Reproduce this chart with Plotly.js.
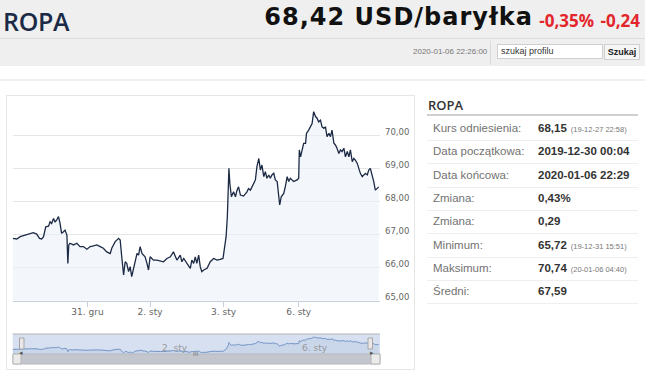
<!DOCTYPE html>
<html>
<head>
<meta charset="utf-8">
<script src="https://cdn.plot.ly/plotly-3.0.1.min.js"></script>
<style>
  html,body{margin:0;padding:0;background:#fff;width:645px;height:375px;overflow:hidden;font-family:"Liberation Sans",Arial,sans-serif;}
  .abs{position:absolute;}
  #hdr{left:0;top:0;width:645px;height:66px;background:#efefef;}
  #hdrline{left:0;top:38px;width:645px;height:1px;background:#dcdcdc;}
  #title{left:3px;top:4px;font-family:"Open Sans",sans-serif;font-size:25px;font-weight:600;color:#1b2a47;letter-spacing:-0.3px;}
  #price{right:112px;top:3px;font-family:"DejaVu Sans",sans-serif;font-size:24px;font-weight:700;color:#111;letter-spacing:1px;white-space:nowrap;}
  #chg{right:5px;top:9px;font-family:"Open Sans",sans-serif;font-size:17px;font-weight:700;color:#e3262d;white-space:nowrap;word-spacing:2px;}
  #date{left:413px;top:47px;font-size:8px;color:#777;}
  #vsep{left:490px;top:41px;width:1px;height:24px;background:#dadada;}
  #search{left:497px;top:44px;width:101px;height:13px;background:#fff;border:1px solid #cfcfcf;font-size:9px;color:#333;line-height:13px;padding-left:3px;box-sizing:content-box;}
  #btn{left:604px;top:44px;width:34px;height:14px;background:#f6f6f6;border:1px solid #cfcfcf;font-size:9px;font-weight:700;color:#222;line-height:14px;text-align:center;}
  #sep2{left:0;top:79px;width:645px;height:2px;background:#f0f0f0;}
  #box{left:6px;top:95px;width:409px;height:275px;border:1px solid #e6e6e6;box-sizing:border-box;}
  #plot{left:6px;top:95px;width:410px;height:275px;}
  #ptitle{left:428px;top:96px;font-family:"Open Sans",sans-serif;font-size:13px;font-weight:600;color:#333;}
  #pline{left:427px;top:114px;width:211px;height:2px;background:#d0d0d0;}
  .row{position:absolute;left:427px;width:211px;height:23px;border-bottom:1px solid #eeeeee;font-size:11.5px;}
  .lbl{position:absolute;left:6px;top:5px;color:#727272;}
  .val{position:absolute;left:111px;top:5px;color:#333;font-weight:700;white-space:nowrap;}
  .sm{font-size:7.5px;font-weight:400;color:#777;margin-left:4px;}
</style>
</head>
<body>
<div id="hdr" class="abs"></div>
<div id="hdrline" class="abs"></div>
<div id="title" class="abs">ROPA</div>
<div id="price" class="abs">68,42 USD/baryłka</div>
<div id="chg" class="abs">-0,35% -0,24</div>
<div id="date" class="abs">2020-01-06 22:26:00</div>
<div id="vsep" class="abs"></div>
<div id="search" class="abs">szukaj profilu</div>
<div id="btn" class="abs">Szukaj</div>
<div id="sep2" class="abs"></div>
<div id="box" class="abs"></div>
<div id="plot" class="abs"></div>
<div id="ptitle" class="abs">ROPA</div>
<div id="pline" class="abs"></div>
<div id="rows"></div>
<script>
// trading hours since 2019-12-30 00:04 (ordinal axis, non-trading time removed)
const hours = [0,1.3,2.4,4.0,5.6,6.6,7.7,8.6,9.3,9.9,10.6,11.5,12.0,12.5,13.1,13.6,14.1,14.7,15.2,15.7,16.3,16.8,17.4,17.7,18.0,18.4,19.5,20.6,21.6,22.7,23.8,24.9,25.9,27.0,28.1,29.1,30.2,31.3,31.8,32.9,34.0,34.5,35.0,35.6,36.1,36.6,37.2,37.7,38.2,38.8,39.3,39.9,40.4,40.9,41.5,42.0,42.5,43.1,43.6,44.1,44.7,45.2,46.3,47.4,48.4,49.5,50.6,51.6,52.2,52.7,53.8,54.3,54.9,55.9,57.0,57.5,58.1,58.6,59.1,59.7,60.2,60.7,61.3,62.4,63.4,64.5,65.6,66.6,67.5,67.9,68.5,68.9,69.2,69.4,69.7,70.2,70.9,71.5,72.0,72.5,73.1,74.1,75.2,75.7,76.3,76.8,77.4,77.9,78.4,79.0,79.5,80.0,80.6,81.1,81.6,82.2,82.7,83.2,83.8,84.3,84.9,85.4,85.7,86.2,87.0,87.5,88.1,88.6,89.1,90.2,91.3,91.8,92.0,92.4,92.9,93.4,94.0,94.3,95.0,95.6,96.1,96.6,97.2,97.7,98.2,98.8,99.3,99.9,100.4,100.9,101.5,102.0,102.5,103.1,103.6,104.1,104.7,105.2,105.7,106.3,106.8,107.4,107.9,108.4,109.0,109.5,110.0,110.6,111.1,111.6,112.2,112.7,113.2,113.8,114.3,114.8,115.4,115.9,116.4,117.0,117.5];
const prices = [66.89,66.87,66.94,66.99,67.04,67.06,67.02,66.89,66.87,66.94,67.24,67.26,67.39,67.34,67.49,67.39,67.44,67.55,67.34,67.04,67.09,67.14,66.99,66.13,66.69,66.74,66.69,66.74,66.64,66.64,66.56,66.64,66.66,66.69,66.64,66.59,66.48,66.43,66.59,66.79,66.89,66.84,66.33,65.78,66.18,66.13,65.88,66.03,65.73,65.98,66.23,66.43,66.38,66.64,66.43,66.38,66.33,66.13,65.93,66.33,66.28,66.23,66.23,66.21,66.18,66.28,66.33,66.48,66.33,66.23,66.38,66.18,66.28,66.13,65.98,66.23,66.13,66.33,66.13,66.38,66.03,65.88,65.93,65.98,66.18,66.28,66.23,66.25,66.28,66.54,66.94,67.55,68.15,69.01,68.56,68.15,68.30,68.15,68.35,68.45,68.20,68.17,68.30,68.40,68.35,68.45,68.61,68.66,69.06,69.31,68.96,69.11,68.76,68.91,68.71,68.81,68.71,68.81,68.86,68.66,68.61,68.05,67.90,68.15,68.25,68.45,68.76,68.61,68.71,68.61,68.66,68.71,69.57,69.36,69.62,69.77,69.77,70.07,70.17,70.27,70.37,70.73,70.58,70.53,70.42,70.47,70.27,70.22,70.27,69.97,70.07,69.97,70.17,69.77,69.72,69.62,69.46,69.57,69.52,69.62,69.36,69.52,69.36,69.57,69.21,69.31,69.26,69.16,69.01,68.86,68.76,68.81,68.86,68.81,68.96,69.01,68.81,68.61,68.35,68.40,68.45];
const xTickHours = [24.0, 44.1, 67.7, 91.8];
const xTickLabels = ['31. gru', '2. sty', '3. sty', '6. sty'];
const yTicks = [65, 66, 67, 68, 69, 70, 71];
const yTickLabels = ['65,00', '66,00', '67,00', '68,00', '69,00', '70,00', ''];
const navLabelHours = [44.1, 91.8];
const navLabels = ['2. sty', '6. sty'];

const statLabels = ['Kurs odniesienia:', 'Data początkowa:', 'Data końcowa:', 'Zmiana:', 'Zmiana:', 'Minimum:', 'Maksimum:', 'Średni:'];
const statValues = ['68,15', '2019-12-30 00:04', '2020-01-06 22:29', '0,43%', '0,29', '65,72', '70,74', '67,59'];
const statNotes = ['(19-12-27 22:58)', '', '', '', '', '(19-12-31 15:51)', '(20-01-06 04:40)', ''];

// side table
const rows = document.getElementById('rows');
statLabels.forEach((l, i) => {
  const r = document.createElement('div');
  r.className = 'row';
  r.style.top = (117 + i * 23.3) + 'px';
  r.innerHTML = '<span class="lbl">' + l + '</span><span class="val">' + statValues[i] +
    (statNotes[i] ? '<span class="sm">' + statNotes[i] + '</span>' : '') + '</span>';
  rows.appendChild(r);
});

// page px -> paper fraction of the plot div (left 6, top 95, 410x275)
const W = 410, H = 275, L0 = 6, T0 = 95;
const px = X => (X - L0) / W;
const py = Y => (T0 + H - Y) / H;

const xDom = [px(12.7), px(380)];
const xRange = [0, 117.9];

const traces = [
  {x: hours, y: prices, type: 'scatter', mode: 'lines', fill: 'tozeroy',
   fillcolor: 'rgba(235,240,246,0.6)', line: {color: '#1c2a45', width: 1.3},
   xaxis: 'x', yaxis: 'y', hoverinfo: 'skip'},
  {x: hours, y: prices, type: 'scatter', mode: 'lines', fill: 'tozeroy',
   fillcolor: 'rgba(69,114,167,0.08)', line: {color: '#6d8fc0', width: 1, shape: 'spline', smoothing: 1.3},
   xaxis: 'x2', yaxis: 'y2', hoverinfo: 'skip'}
];

const shapes = [
  // navigator mask
  {type: 'rect', xref: 'paper', yref: 'paper', x0: xDom[0], x1: xDom[1], y0: py(354), y1: py(334),
   fillcolor: 'rgba(102,140,205,0.27)', line: {width: 0}, layer: 'below'},
  {type: 'line', xref: 'paper', yref: 'paper', x0: xDom[0], x1: xDom[1], y0: py(334), y1: py(334),
   line: {color: '#b2b1b6', width: 1}},
  // scrollbar
  {type: 'rect', xref: 'paper', yref: 'paper', x0: px(13), x1: px(380), y0: py(364), y1: py(354),
   fillcolor: '#c3c7cd', line: {color: '#b5b9bf', width: 1}},
  {type: 'rect', xref: 'paper', yref: 'paper', x0: px(13), x1: px(21), y0: py(364), y1: py(354),
   fillcolor: '#ebebeb', line: {color: '#b5b5b5', width: 1}},
  {type: 'rect', xref: 'paper', yref: 'paper', x0: px(371), x1: px(380), y0: py(364), y1: py(354),
   fillcolor: '#ebebeb', line: {color: '#b5b5b5', width: 1}},
  // handles
  {type: 'rect', xref: 'paper', yref: 'paper', x0: px(19.5), x1: px(24), y0: py(349), y1: py(338),
   fillcolor: '#ebe7e8', line: {color: '#a5a5a5', width: 1}},
  {type: 'rect', xref: 'paper', yref: 'paper', x0: px(368), x1: px(372.5), y0: py(349), y1: py(338),
   fillcolor: '#ebe7e8', line: {color: '#a5a5a5', width: 1}}
];

const annotations = [
  {xref: 'paper', yref: 'paper', x: px(17), y: py(359), text: '◂', showarrow: false, font: {size: 7, color: '#555'}},
  {xref: 'paper', yref: 'paper', x: px(375.5), y: py(359), text: '▸', showarrow: false, font: {size: 7, color: '#555'}},
  {xref: 'paper', yref: 'paper', x: px(196), y: py(359), text: 'III', showarrow: false, font: {size: 6, color: '#777'}}
];
navLabels.forEach((t, i) => annotations.push({
  xref: 'x2', yref: 'paper', x: navLabelHours[i], y: py(355), yanchor: 'bottom', text: t, showarrow: false,
  xanchor: 'left', xshift: i === 0 ? 10 : 1, font: {size: 9, color: '#999'}
}));

const layout = {
  width: W, height: H, margin: {l: 0, r: 0, t: 0, b: 0},
  paper_bgcolor: 'rgba(0,0,0,0)', plot_bgcolor: 'rgba(0,0,0,0)',
  showlegend: false, separators: ', ',
  font: {family: '"DejaVu Sans", "Liberation Sans", sans-serif', size: 9, color: '#666'},
  xaxis: {domain: xDom, range: xRange, anchor: 'y', tickmode: 'array', tickvals: xTickHours, ticktext: xTickLabels,
    ticks: 'outside', ticklen: 5, tickcolor: '#c8d0dc', showgrid: false, zeroline: false,
    showline: true, linecolor: '#c8d0dc', ticklabelstandoff: -3, tickfont: {size: 9, color: '#666'}},
  yaxis: {domain: [py(300.7), py(102.7)], range: [65, 71], anchor: 'x', side: 'right',
    tickmode: 'array', tickvals: yTicks, ticktext: yTickLabels, showgrid: true, gridcolor: '#e6e6e6', gridwidth: 1,
    zeroline: false, ticks: '', ticklabelshift: -4, ticklabelstandoff: 4, tickfont: {size: 8.5, color: '#666'}},
  xaxis2: {domain: xDom, range: xRange, anchor: 'y2', showticklabels: false, showgrid: false, zeroline: false, ticks: ''},
  yaxis2: {domain: [py(354), py(334)], range: [65.41, 71.69], anchor: 'x2', showticklabels: false,
    showgrid: false, zeroline: false, ticks: ''},
  shapes: shapes, annotations: annotations
};

Plotly.newPlot('plot', traces, layout, {displayModeBar: false, staticPlot: true});
</script>
</body>
</html>
